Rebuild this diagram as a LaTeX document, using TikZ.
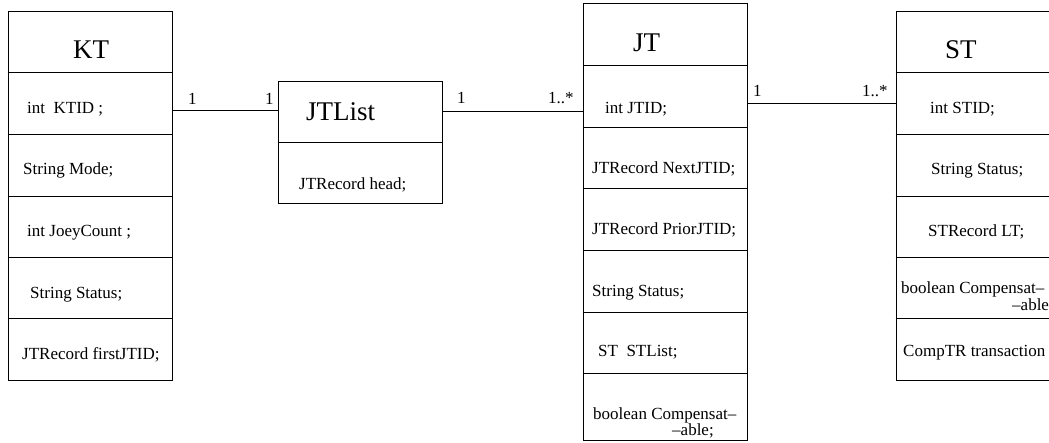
\documentclass[tikz,border=0pt]{standalone}
\usepackage{fontspec}
\setmainfont{Liberation Serif}
\newfontfamily\tnr{Liberation Serif}
\begin{document}
\begin{tikzpicture}[x=1pt,y=-1pt,
  box/.style={draw, line width=1pt, minimum width=164pt, inner sep=0pt, rectangle},
  attr/.style={font=\tnr\fontsize{17}{17}\selectfont, anchor=base west, inner sep=0pt},
  ttl/.style={font=\tnr\fontsize{27}{27}\selectfont, anchor=base west, inner sep=0pt},
  lbl/.style={font=\tnr\fontsize{17}{17}\selectfont, anchor=base west, inner sep=0pt},
  conn/.style={line width=1pt},
  sepline/.style={line width=1pt}]
\useasboundingbox (0,0) rectangle (1049,442);
\clip (0,0) rectangle (1049,442);
% boxes
\node[box, minimum height=369pt] (kt) at (90,195.5) {};
\node[box, minimum height=122pt] (jtl) at (360,142) {};
\node[box, minimum height=437pt] (jt) at (665,221.5) {};
\node[box, minimum height=369pt] (st) at (978,195.5) {};
% compartment lines
\foreach \y in {72,134,196,257,318}
  \draw[sepline] (kt.west |- 0,\y) -- (kt.east |- 0,\y);
\draw[sepline] (jtl.west |- 0,142) -- (jtl.east |- 0,142);
\foreach \y in {65,127,188,250,312,373}
  \draw[sepline] (jt.west |- 0,\y) -- (jt.east |- 0,\y);
\foreach \y in {72,134,196,257,318}
  \draw[sepline] (st.west |- 0,\y) -- (st.east |- 0,\y);
% connectors
\draw[conn] (kt.east |- 0,110) -- (jtl.west |- 0,110);
\draw[conn] (jtl.east |- 0,111) -- (jt.west |- 0,111);
\draw[conn] (jt.east |- 0,103) -- (st.west |- 0,103);
% KT texts
\node[ttl] (ktt) at (73,58) {KT};
\node[attr] (kt1) at (27,113) {int~ KTID ;};
\node[attr] (kt2) at (23,174) {String Mode;};
\node[attr] (kt3) at (27,236) {int JoeyCount ;};
\node[attr] (kt4) at (30,298) {String Status;};
\node[attr] (kt5) at (22,359) {JTRecord firstJTID;};
% JTList texts
\node[ttl] (jtlt) at (306,120) {JTList};
\node[attr] (jtl1) at (299,189) {JTRecord head;};
% JT texts
\node[ttl] (jtt) at (633,51) {JT};
\node[attr] (jt1) at (605,113) {int JTID;};
\node[attr] (jt2) at (592,173) {JTRecord NextJTID;};
\node[attr] (jt3) at (592,234) {JTRecord PriorJTID;};
\node[attr] (jt4) at (592,296) {String Status;};
\node[attr] (jt5) at (598,356) {ST~ STList;};
\node[attr] (jt6a) at (593,419) {boolean Compensat\textendash};
\node[attr] (jt6b) at (672,435) {\textendash able;};
% ST texts
\node[ttl] (stt) at (945,58) {ST};
\node[attr] (st1) at (930,113) {int STID;};
\node[attr] (st2) at (931,174) {String Status;};
\node[attr] (st3) at (928,236) {STRecord LT;};
\node[attr] (st4a) at (901,293) {boolean Compensat\textendash};
\node[attr] (st4b) at (1012,310) {\textendash able};
\node[attr] (st5) at (903,356) {CompTR transaction};
% multiplicities
\node[lbl] (m1) at (188,104) {1};
\node[lbl] (m2) at (265,104) {1};
\node[lbl] (m3) at (457,103) {1};
\node[lbl] (m4) at (548,103) {1..*};
\node[lbl] (m5) at (753,96) {1};
\node[lbl] (m6) at (862,96) {1..*};
\end{tikzpicture}
\end{document}
